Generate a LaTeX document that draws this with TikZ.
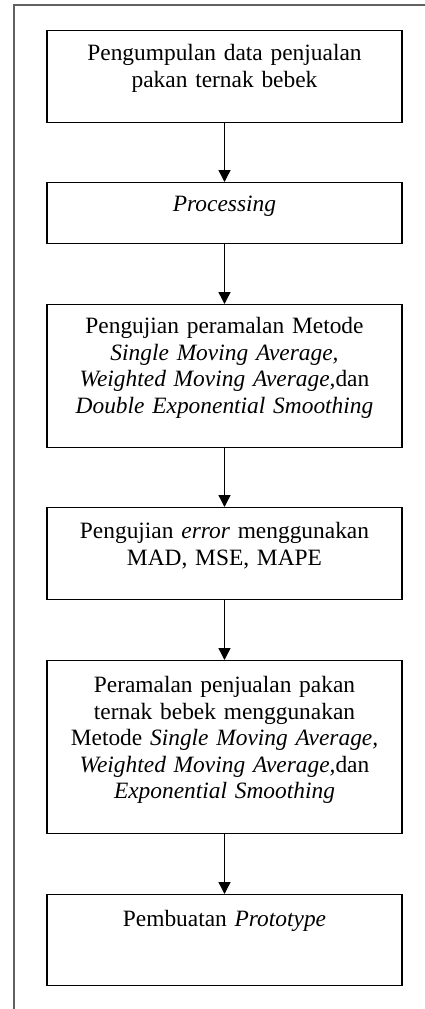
\documentclass[tikz,border=0pt]{standalone}
\usepackage{fontspec}
\setmainfont{Liberation Serif}
\usetikzlibrary{positioning,arrows.meta}

\begin{document}
\begin{tikzpicture}[x=1pt, y=-1pt,
  box/.style={draw, line width=1.4pt, anchor=north, text width=347pt,
              inner xsep=4pt, inner ysep=0pt, align=center, text height=30pt,
              font=\fontsize{23.4}{26.5}\selectfont},
  arr/.style={-{Triangle[length=12pt, width=12pt]}, line width=1.4pt},
  frame/.style={draw=black!62, line width=1.1pt}
]
  \useasboundingbox (0,0) rectangle (425,1009);

  % outer page frame
  \draw[frame] (425,5) -- (14,5) -- (14,1009);

  % boxes, top to bottom
  \node[box, text depth=62pt] (collect) at (224.5,30)
    {Pengumpulan data penjualan\\pakan ternak bebek};
  \node[box, text height=29pt, text depth=32pt] (proc) at (224.5,182)
    {\textit{Processing}};
  \node[box, text height=29pt, text depth=114pt] (test) at (224.5,304)
    {Pengujian peramalan Metode\\
     \textit{Single Moving Average,}\\
     \textit{Weighted Moving Average,}dan\\
     \textit{Double Exponential Smoothing}};
  \node[box, text height=31pt, text depth=61pt] (err) at (224.5,507)
    {Pengujian \textit{error} menggunakan\\MAD, MSE, MAPE};
  \node[box, text height=32pt, text depth=141pt] (fcast) at (224.5,660)
    {Peramalan penjualan pakan\\
     ternak bebek menggunakan\\
     Metode \textit{Single Moving Average,}\\
     \textit{Weighted Moving Average,}dan\\
     \textit{Exponential Smoothing}};
  \node[box, text height=32pt, text depth=59pt] (proto) at (224.5,894)
    {Pembuatan \textit{Prototype}};

  % arrows
  \draw[arr] (collect) -- (proc);
  \draw[arr] (proc) -- (test);
  \draw[arr] (test) -- (err);
  \draw[arr] (err) -- (fcast);
  \draw[arr] (fcast) -- (proto);
\end{tikzpicture}
\end{document}
